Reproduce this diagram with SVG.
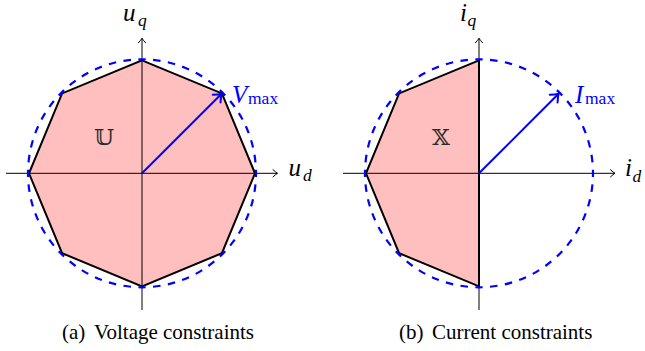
<svg xmlns="http://www.w3.org/2000/svg" width="645" height="351" viewBox="0 0 645 351">
<style>
.fill{fill:#FFBFBF;stroke:none}
.axis{fill:none;stroke:#000;stroke-width:1;marker-end:url(#ax)}
.edge{fill:none;stroke:#000;stroke-width:2;stroke-linejoin:miter}
.circ{fill:none;stroke:#0000FF;stroke-width:2.2;stroke-dasharray:1 1;stroke-dashoffset:0.5}
.vec{fill:none;stroke:#0000FF;stroke-width:2;marker-end:url(#vh)}
text{font-family:'Liberation Serif',serif}
.mi{font-style:italic;font-size:25px}
.sub{font-style:italic;font-size:17.5px}
.rm{font-size:17.5px}
.bb{font-family:'DejaVu Serif','DejaVu Sans',serif;font-size:23px;fill:#2a2a2a}
.cap{font-size:21px;fill:#000}
.blue{fill:#0000FF}
</style>
<defs>
<marker id="ax" markerUnits="userSpaceOnUse" orient="auto" overflow="visible" refX="0" refY="0" markerWidth="10" markerHeight="10">
<path d="M-4.5,-3.6 Q-1.6,-0.9 0,0 Q-1.6,0.9 -4.5,3.6" fill="none" stroke="#000" stroke-width="1" stroke-linecap="round"/>
</marker>
<marker id="vh" markerUnits="userSpaceOnUse" orient="auto" overflow="visible" refX="0" refY="0" markerWidth="16" markerHeight="16">
<path d="M-7,-5.5 Q-2.5,-1.4 0,0 Q-2.5,1.4 -7,5.5" fill="none" stroke="#0000FF" stroke-width="2" stroke-linecap="round"/>
</marker>
</defs>
<g id="panel-a">
<polygon class="fill" points="142,60.3 221.9,93.4 255,173.3 221.9,253.2 142,286.3 62.1,253.2 29,173.3 62.1,93.4"/>
<g id="axes-a">
<line class="axis" x1="6" y1="173.3" x2="277.5" y2="173.3"/>
<line class="axis" x1="142" y1="310" x2="142" y2="38.3"/>
</g>
<polygon id="octagon-a" class="edge" points="142,60.3 221.9,93.4 255,173.3 221.9,253.2 142,286.3 62.1,253.2 29,173.3 62.1,93.4"/>
<circle id="circle-a" class="circ" cx="142" cy="173.3" r="114" pathLength="96"/>
<line id="vector-a" class="vec" x1="142" y1="173.3" x2="221.6" y2="93.7"/>
<text class="mi" x="123" y="21">u</text><text class="sub" x="138" y="26">q</text>
<text class="mi" x="288.5" y="175.5">u</text><text class="sub" x="303" y="181">d</text>
<text class="mi blue" x="232" y="102.5">V</text><text class="rm blue" x="248" y="103.5">max</text>
<text class="bb" x="104" y="145" text-anchor="middle">𝕌</text>
<text class="cap" y="339"><tspan x="62">(a)</tspan><tspan x="94">Voltage constraints</tspan></text>
</g>
<g id="panel-b">
<polygon class="fill" points="479,60.3 399.1,93.4 366,173.3 399.1,253.2 479,286.3"/>
<g id="axes-b">
<line class="axis" x1="343" y1="173.3" x2="615" y2="173.3"/>
<line class="axis" x1="479" y1="310" x2="479" y2="38.3"/>
</g>
<polygon id="half-octagon-b" class="edge" points="479,60.3 399.1,93.4 366,173.3 399.1,253.2 479,286.3"/>
<circle id="circle-b" class="circ" cx="479" cy="173.3" r="114" pathLength="96"/>
<line id="vector-b" class="vec" x1="479" y1="173.3" x2="558.6" y2="93.7"/>
<text class="mi" x="460" y="21">i</text><text class="sub" x="467.5" y="26">q</text>
<text class="mi" x="625" y="176">i</text><text class="sub" x="632.5" y="181.5">d</text>
<text class="mi blue" x="575" y="102.5">I</text><text class="rm blue" x="585" y="103.5">max</text>
<text class="bb" x="441" y="145" text-anchor="middle">𝕏</text>
<text class="cap" y="339"><tspan x="399">(b)</tspan><tspan x="432">Current constraints</tspan></text>
</g>
</svg>
